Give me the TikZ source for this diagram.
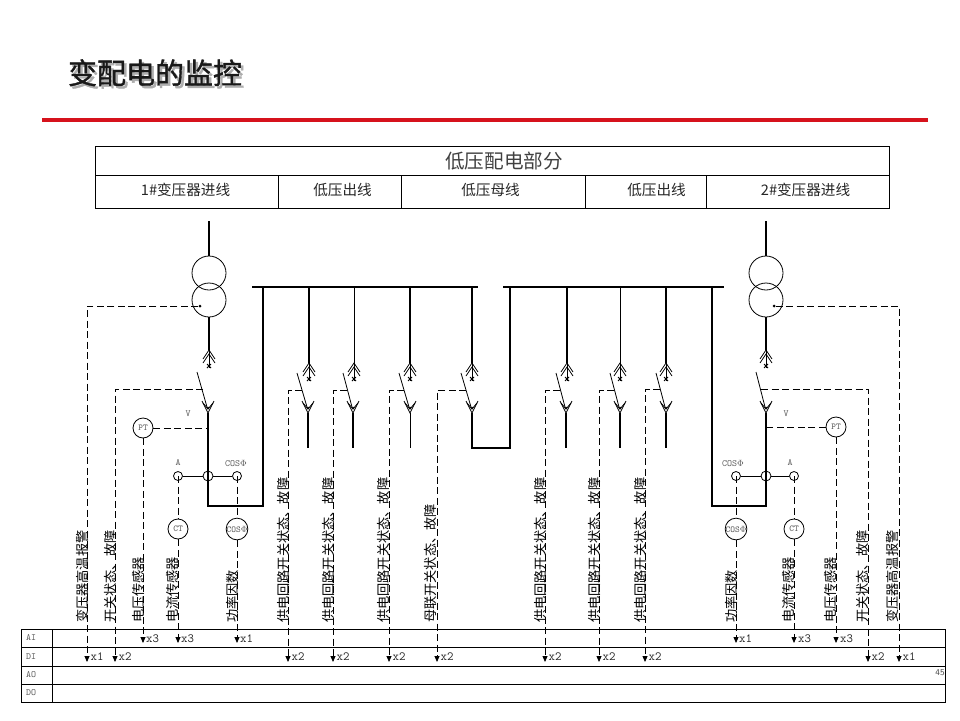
\documentclass[tikz,border=0pt]{standalone}
\usepackage{fontspec}
\newfontfamily\cjk{Noto Sans CJK SC}
\newfontfamily\cjktitle[FakeBold=1.2]{Noto Sans CJK SC}
\usetikzlibrary{arrows.meta,positioning}
\definecolor{rulered}{RGB}{214,18,28}
\newcommand{\shadetext}[1]{\rlap{\hspace{2.5pt}\raisebox{-2.5pt}{\textcolor{black!32}{#1}}}#1}
\tikzset{
  pw/.style={line width=2.2pt},
  fine/.style={line width=.8pt},
  ctrl/.style={line width=.8pt, dash pattern=on 7pt off 3.5pt},
  sig/.style={ctrl, -{Triangle[length=6pt,width=5pt]}},
  cell/.style={draw, line width=.9pt, inner sep=0pt},
  xfmr/.style={draw, fine, circle, minimum size=34pt, inner sep=0pt},
  meter/.style={draw, fine, circle, minimum size=20pt, inner sep=0pt, font=\ttfamily\fontsize{9}{9}\selectfont, text=black!65},
  ring/.style={draw, fine, circle, minimum size=9pt, inner sep=0pt},
  tag/.style={inner sep=0pt, font=\ttfamily\fontsize{9.5}{9.5}\selectfont, text=black!65},
  cnt/.style={inner sep=0pt, anchor=west, font=\ttfamily\fontsize{12.5}{12.5}\selectfont, text=black!85},
  head/.style={inner sep=0pt, font=\cjk\fontsize{14.6}{14.6}\selectfont, text=black!85},
  vlab/.style={inner sep=0pt, rotate=90, anchor=west, font=\cjk\fontsize{13.2}{13.2}\selectfont},
  dotm/.style={fill, circle, minimum size=3pt, inner sep=0pt},
  pics/gearup/.style={code={
    \draw[fine] (-6,9) -- (0,0) -- (6,9);
    \draw[fine] (-6,13) -- (0,4) -- (6,13);
    \draw[fine] (0,0) -- (0,18);
    \draw[fine] (-2,14) -- (2,18) (2,14) -- (-2,18);
    \fill (0,16) circle (1.3pt);}},
  pics/geardown/.style={code={
    \draw[fine] (-6,-12) -- (0,0) -- (6,-12);
    \draw[fine] (-5,-10) -- (0,-4) -- (5,-10);
    \fill (0,-5) circle (1.3pt);}}
}
\begin{document}
\begin{tikzpicture}[x=1pt,y=-1pt]
\useasboundingbox (0,0) rectangle (960,720);
%%%%%%%%%%%%%%%%%%%%%%%%%%%%%%% title
\node[text=black!90, font=\cjktitle\fontsize{29}{29}\selectfont](title) at (155,74){\shadetext{变配电的监控}};
\coordinate(rulea) at (42,120);
\coordinate(ruleb) at (928,120);
\draw[rulered, line width=4pt] (rulea) -- (ruleb);
%%%%%%%%%%%%%%%%%%%%%%%%%%%%%%% top table
\node[cell, minimum width=794pt, minimum height=29pt](tophead) at (492,160.5){};
\node[cell, minimum width=183pt, minimum height=33pt](topa) at (186.5,191.5){};
\node[cell, minimum width=123pt, minimum height=33pt](topb) at (339.5,191.5){};
\node[cell, minimum width=184pt, minimum height=33pt](topc) at (493,191.5){};
\node[cell, minimum width=121pt, minimum height=33pt](topd) at (645.5,191.5){};
\node[cell, minimum width=183pt, minimum height=33pt](tope) at (797.5,191.5){};
\node[inner sep=0pt, text=black!75, font=\cjk\fontsize{19.6}{19.6}\selectfont](headt) at (504,161){低压配电部分};
\node[head](heada) at (185.5,190){1\#变压器进线};
\node[head](headb) at (342.5,190){低压出线};
\node[head](headc) at (490.5,190){低压母线};
\node[head](headd) at (656.5,190){低压出线};
\node[head](heade) at (805.5,190){2\#变压器进线};
%%%%%%%%%%%%%%%%%%%%%%%%%%%%%%% bottom table
\node[cell, minimum width=31pt, minimum height=18pt](rowai) at (36.5,638){};
\node[cell, minimum width=31pt, minimum height=19pt](rowdi) at (36.5,656.5){};
\node[cell, minimum width=31pt, minimum height=18pt](rowao) at (36.5,675){};
\node[cell, minimum width=31pt, minimum height=18pt](rowdo) at (36.5,693){};
\node[cell, minimum width=893pt, minimum height=18pt](boxai) at (498.5,638){};
\node[cell, minimum width=893pt, minimum height=19pt](boxdi) at (498.5,656.5){};
\node[cell, minimum width=893pt, minimum height=18pt](boxao) at (498.5,675){};
\node[cell, minimum width=893pt, minimum height=18pt](boxdo) at (498.5,693){};
\node[tag](tai) at (31,638){AI};
\node[tag](tdi) at (31,656.5){DI};
\node[tag](tao) at (31,675){AO};
\node[tag](tdo) at (31,693){DO};
\node[inner sep=0pt, text=black!70, font=\sffamily\fontsize{9}{9}\selectfont](pageno) at (940,673){45};
%%%%%%%%%%%%%%%%%%%%%%%%%%%%%%% arrow ends in the table
\coordinate(ai1) at (143,643);
\coordinate(ai2) at (178,643);
\coordinate(ai3) at (237,643);
\coordinate(ai4) at (736,643);
\coordinate(ai5) at (794,643);
\coordinate(ai6) at (836,643);
\coordinate(di1) at (87,662);
\coordinate(di2) at (115,662);
\coordinate(di3) at (288,662);
\coordinate(di4) at (333,662);
\coordinate(di5) at (389,662);
\coordinate(di6) at (437,662);
\coordinate(di7) at (545,662);
\coordinate(di8) at (599,662);
\coordinate(di9) at (645,662);
\coordinate(di10) at (868,662);
\coordinate(di11) at (899,662);
\node[cnt](na1) at (146,639){x3};
\node[cnt](na2) at (181,639){x3};
\node[cnt](na3) at (240,639){x1};
\node[cnt](na4) at (739,639){x1};
\node[cnt](na5) at (798,639){x3};
\node[cnt](na6) at (840,639){x3};
\node[cnt](nd1) at (90.5,657){x1};
\node[cnt](nd2) at (118.5,657){x2};
\node[cnt](nd3) at (291.5,657){x2};
\node[cnt](nd4) at (336.5,657){x2};
\node[cnt](nd5) at (392.5,657){x2};
\node[cnt](nd6) at (440.5,657){x2};
\node[cnt](nd7) at (548.5,657){x2};
\node[cnt](nd8) at (602.5,657){x2};
\node[cnt](nd9) at (648.5,657){x2};
\node[cnt](nd10) at (871.5,657){x2};
\node[cnt](nd11) at (902.5,657){x1};
%%%%%%%%%%%%%%%%%%%%%%%%%%%%%%% bus bars and tie
\coordinate(busa) at (252,287);
\coordinate(busb) at (478,287);
\coordinate(busc) at (503,287);
\coordinate(busd) at (724,287);
\draw[pw] (busa) -- (busb);
\draw[pw] (busc) -- (busd);
\coordinate(tiea) at (472,287);
\coordinate(tieb) at (472,363);
\coordinate(tiec) at (472,413);
\coordinate(tied) at (510,448);
\coordinate(tiee) at (510,287);
\draw[pw] (tiea) -- (tieb);
\draw[pw] (tiec) |- (tied) -- (tiee);
%%%%%%%%%%%%%%%%%%%%%%%%%%%%%%% left transformer
\coordinate(in1) at (209,221);
\node[xfmr](ta1) at (209,273){};
\node[xfmr](tb1) at (209,300){};
\coordinate(up1) at (209,350);
\coordinate(dn1) at (208,413);
\coordinate(hv1) at (263,287);
\coordinate(lo1) at (208,506);
\coordinate(lo2) at (263,506);
\draw[pw] (in1) -- (ta1.north);
\draw[pw] (tb1.south) -- (up1);
\pic at (up1) {gearup};
\pic at (dn1) {geardown};
\draw[pw] (dn1) -- (lo1) -- (lo2) -- (hv1);
\coordinate(q1a) at (197,372);
\coordinate(q1b) at (207,407);
\coordinate(q1c) at (203,389);
\draw[fine] (q1a) -- (q1b);
\node[dotm](dot1) at (200,306){};
\draw[sig] (dot1) -| (di1);
\draw[sig] (q1c) -| (di2);
\coordinate(jv1) at (208,428);
\node[meter](pt1) at (143,428){PT};
\node[tag](lv1) at (188,414){V};
\draw[ctrl] (pt1) -- (jv1);
\draw[sig] (pt1.south) -- (ai1);
\node[ring](ra1) at (178,476){};
\node[ring, minimum size=10pt](cr1) at (208,476){};
\node[ring](rc1) at (237,476){};
\node[tag](la1) at (178,463){A};
\node[tag](lc1) at (236,463){COS$\Phi$};
\draw[fine] (ra1) -- (cr1) -- (rc1);
\node[meter](ct1) at (178,529){CT};
\node[meter](cp1) at (237,529){COS$\Phi$};
\draw[ctrl] (ra1.center) -- (ct1.north);
\draw[ctrl] (rc1.center) -- (cp1.north);
\draw[sig] (ct1.south) -- (ai2);
\draw[sig] (cp1.south) -- (ai3);
%%%%%%%%%%%%%%%%%%%%%%%%%%%%%%% left feeders
\coordinate(b2) at (309,287);
\coordinate(u2) at (309,363);
\coordinate(d2) at (308,413);
\coordinate(e2) at (308,448);
\draw[pw] (b2) -- (u2);
\draw[pw] (d2) -- (e2);
\pic at (u2) {gearup};
\pic at (d2) {geardown};
\coordinate(q2a) at (297,373);
\coordinate(q2b) at (307,407);
\coordinate(q2c) at (302,390);
\draw[fine] (q2a) -- (q2b);
\draw[sig] (q2c) -| (di3);
\coordinate(b3) at (354,287);
\coordinate(u3) at (354,363);
\coordinate(d3) at (353,413);
\coordinate(e3) at (353,448);
\draw[fine] (b3) -- (u3);
\draw[pw] (d3) -- (e3);
\pic at (u3) {gearup};
\pic at (d3) {geardown};
\coordinate(q3a) at (343,373);
\coordinate(q3b) at (352,407);
\coordinate(q3c) at (347,390);
\draw[fine] (q3a) -- (q3b);
\draw[sig] (q3c) -| (di4);
\coordinate(b4) at (410,287);
\coordinate(u4) at (410,363);
\coordinate(d4) at (410,413);
\coordinate(e4) at (410,448);
\draw[pw] (b4) -- (u4);
\draw[fine] (d4) -- (e4);
\pic at (u4) {gearup};
\pic at (d4) {geardown};
\coordinate(q4a) at (399,373);
\coordinate(q4b) at (409,407);
\coordinate(q4c) at (404,390);
\draw[fine] (q4a) -- (q4b);
\draw[sig] (q4c) -| (di5);
\pic at (tieb) {gearup};
\pic at (tiec) {geardown};
\coordinate(q5a) at (461,373);
\coordinate(q5b) at (471,407);
\coordinate(q5c) at (466,390);
\draw[fine] (q5a) -- (q5b);
\draw[sig] (q5c) -| (di6);
%%%%%%%%%%%%%%%%%%%%%%%%%%%%%%% right feeders
\coordinate(b6) at (567,287);
\coordinate(u6) at (567,363);
\coordinate(d6) at (566,413);
\coordinate(e6) at (566,448);
\draw[pw] (b6) -- (u6);
\draw[pw] (d6) -- (e6);
\pic at (u6) {gearup};
\pic at (d6) {geardown};
\coordinate(q6a) at (556,373);
\coordinate(q6b) at (565,407);
\coordinate(q6c) at (560,390);
\draw[fine] (q6a) -- (q6b);
\draw[sig] (q6c) -| (di7);
\coordinate(b7) at (620,287);
\coordinate(u7) at (620,363);
\coordinate(d7) at (620,413);
\coordinate(e7) at (620,448);
\draw[fine] (b7) -- (u7);
\draw[pw] (d7) -- (e7);
\pic at (u7) {gearup};
\pic at (d7) {geardown};
\coordinate(q7a) at (610,373);
\coordinate(q7b) at (619,407);
\coordinate(q7c) at (614,390);
\draw[fine] (q7a) -- (q7b);
\draw[sig] (q7c) -| (di8);
\coordinate(b8) at (666,287);
\coordinate(u8) at (666,363);
\coordinate(d8) at (666,413);
\coordinate(e8) at (666,448);
\draw[pw] (b8) -- (u8);
\draw[pw] (d8) -- (e8);
\pic at (u8) {gearup};
\pic at (d8) {geardown};
\coordinate(q8a) at (656,373);
\coordinate(q8b) at (665,407);
\coordinate(q8c) at (660,389);
\draw[fine] (q8a) -- (q8b);
\draw[sig] (q8c) -| (di9);
%%%%%%%%%%%%%%%%%%%%%%%%%%%%%%% right transformer
\coordinate(in2) at (766,221);
\node[xfmr](ta2) at (766,273){};
\node[xfmr](tb2) at (766,300){};
\coordinate(up2) at (766,350);
\coordinate(dn2) at (766,413);
\coordinate(hv2) at (712,287);
\coordinate(lo3) at (766,506);
\coordinate(lo4) at (712,506);
\draw[pw] (in2) -- (ta2.north);
\draw[pw] (tb2.south) -- (up2);
\pic at (up2) {gearup};
\pic at (dn2) {geardown};
\draw[pw] (dn2) -- (lo3) -- (lo4) -- (hv2);
\coordinate(q9a) at (756,372);
\coordinate(q9b) at (765,407);
\coordinate(q9c) at (761,389);
\draw[fine] (q9a) -- (q9b);
\node[dotm](dot2) at (774,306){};
\draw[sig] (dot2) -| (di11);
\draw[sig] (q9c) -| (di10);
\coordinate(jv2) at (767,427);
\node[meter](pt2) at (836,427){PT};
\node[tag](lv2) at (786,414){V};
\draw[ctrl] (pt2.west) -- (jv2);
\draw[sig] (pt2.south) -- (ai6);
\node[ring](rc2) at (736,476){};
\node[ring, minimum size=10pt](cr2) at (766,476){};
\node[ring](ra2) at (794,476){};
\node[tag](lc2) at (733,463){COS$\Phi$};
\node[tag](la2) at (790,463){A};
\draw[fine] (rc2) -- (cr2) -- (ra2);
\node[meter](cp2) at (736,529){COS$\Phi$};
\node[meter](ct2) at (794,529){CT};
\draw[ctrl] (rc2.center) -- (cp2.north);
\draw[ctrl] (ra2.center) -- (ct2.north);
\draw[sig] (cp2.south) -- (ai4);
\draw[sig] (ct2.south) -- (ai5);
%%%%%%%%%%%%%%%%%%%%%%%%%%%%%%% vertical texts
\node[vlab](v1) at (82,623){变压器高温报警};
\node[vlab](v2) at (110,623){开关状态、故障};
\node[vlab](v3) at (138,623){电压传感器};
\node[vlab](v4) at (172,623){电流传感器};
\node[vlab](v5) at (232,623){功率因数};
\node[vlab](v6) at (283,623){供电回路开关状态、故障};
\node[vlab](v7) at (328,623){供电回路开关状态、故障};
\node[vlab](v8) at (383,623){供电回路开关状态、故障};
\node[vlab](v9) at (431,623){母联开关状态、故障};
\node[vlab](v10) at (540,623){供电回路开关状态、故障};
\node[vlab](v11) at (594,623){供电回路开关状态、故障};
\node[vlab](v12) at (640,623){供电回路开关状态、故障};
\node[vlab](v13) at (731,623){功率因数};
\node[vlab](v14) at (788,623){电流传感器};
\node[vlab](v15) at (830,623){电压传感器};
\node[vlab](v16) at (862,623){开关状态、故障};
\node[vlab](v17) at (892,623){变压器高温报警};
\end{tikzpicture}
\end{document}
